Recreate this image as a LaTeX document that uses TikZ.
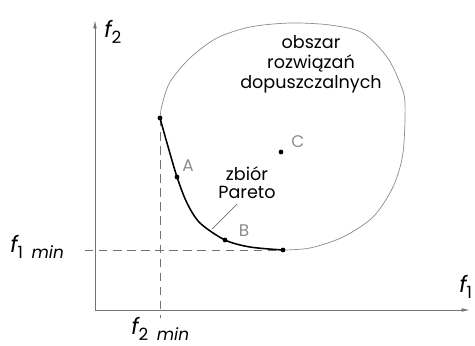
\documentclass[tikz,border=0pt]{standalone}
\usepackage{fontspec}
\setmainfont{Poppins}
\usetikzlibrary{arrows.meta}
\definecolor{axisgray}{gray}{0.45}
\definecolor{labelgray}{gray}{0.55}
\newcommand{\fsub}[2]{{\fontsize{16}{16}\selectfont\itshape f}\raisebox{-4.3pt}{\fontsize{12}{12}\selectfont #1\hspace{6pt}\itshape #2}}
\tikzset{
  axis/.style={draw=axisgray,line width=0.6pt,-{Latex[length=6pt,width=2.6pt]}},
  guide/.style={draw=axisgray,line width=0.5pt,dash pattern=on 6pt off 4pt},
  pointdot/.style={circle,fill=black,inner sep=0pt,minimum size=3.4pt},
  letter/.style={text=labelgray,font=\fontsize{12}{12}\selectfont}
}
\begin{document}
\begin{tikzpicture}[x=0.025cm,y=-0.025cm]
\useasboundingbox (0,0) rectangle (475,345);
\coordinate (O) at (95,310);
\coordinate (ytip) at (95,20);
\coordinate (xtip) at (470,310);
\coordinate (P1) at (160,118);
\coordinate (PA) at (177,177);
\coordinate (PB) at (225,240);
\coordinate (P2) at (283,250);
\coordinate (vend) at (160,318);
\coordinate (hend) at (85,250);
\coordinate (foot) at (212,229);
\draw[axis] (O) -- (ytip);
\draw[axis] (O) -- (xtip);
\draw[guide] (P1) -- (vend);
\draw[guide] (hend) -- (P2);
\draw[labelgray,line width=0.5pt] plot[smooth] coordinates {(P1) (162,105) (170,82) (190,58) (217,38) (250,27) (290,23) (330,25) (363,33) (387,57) (400,83) (405,103) (403,153) (393,187) (373,217) (343,237) (310,248) (P2)};
\draw[black,line width=1.1pt] plot[smooth] coordinates {(P1) (167,143) (PA) (187,203) (200,223) (PB) (250,247) (P2)};
\node[pointdot] (d1) at (P1) {};
\node[pointdot] (dA) at (PA) {};
\node[pointdot] (dB) at (PB) {};
\node[pointdot] (d2) at (P2) {};
\node[pointdot] (dC) at (281,152) {};
\node[letter,anchor=base] (lA) at (188,171) {A};
\node[letter,anchor=base] (lB) at (244,236) {B};
\node[letter,anchor=base] (lC) at (298,147) {C};
\node[align=center,font=\fontsize{12.5}{14.2}\selectfont] (region) at (311,64) {obszar\\rozwiązań\\dopuszczalnych};
\node[align=center,font=\fontsize{12.5}{12.8}\selectfont] (pareto) at (247,183) {zbiór\\Pareto};
\draw[axisgray,line width=0.5pt] (foot) -- (pareto.245);
\node[anchor=base west,inner sep=0pt] (f2) at (104,37) {\fsub{2}{}};
\node[anchor=base west,inner sep=0pt] (f1) at (459,292) {\fsub{1}{}};
\node[anchor=base west,inner sep=0pt] (f1min) at (10,252) {\fsub{1}{min}};
\node[anchor=base west,inner sep=0pt] (f2min) at (131,334) {\fsub{2}{min}};
\end{tikzpicture}
\end{document}
